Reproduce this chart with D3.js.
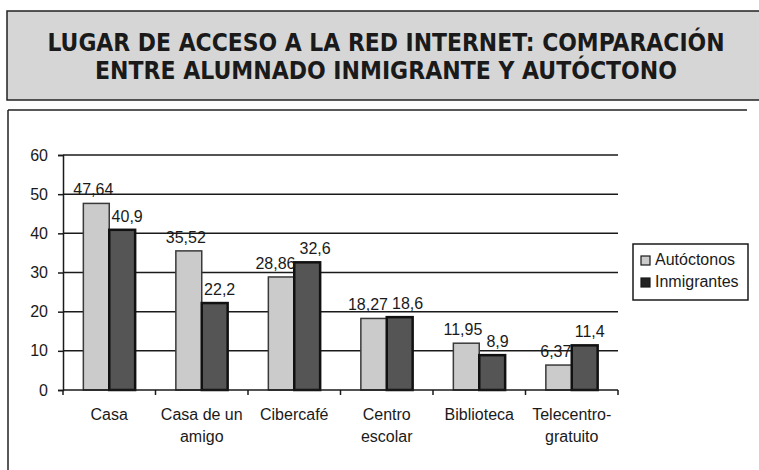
<!DOCTYPE html>
<html lang="es">
<head>
<meta charset="UTF-8">
<title>Lugar de acceso a la red Internet</title>
<style>
  body { margin: 0; background: #fff; }
  svg { display: block; font-family: "Liberation Sans", Arial, sans-serif; }
  .title { font-family: "Liberation Sans Narrow", "Arial Narrow", "DejaVu Sans Condensed", sans-serif; font-weight: bold; font-size: 25px; fill: #1a1a1a; }
  .lbl { font-size: 16px; fill: #1a1a1a; }
</style>
</head>
<body>
<div id="chart"></div>
<script src="https://d3js.org/d3.v7.min.js"></script>
<script>
// data
const titleLines = ["LUGAR DE ACCESO A LA RED INTERNET: COMPARACIÓN", "ENTRE ALUMNADO INMIGRANTE Y AUTÓCTONO"];
const categories = ["Casa", "Casa de un amigo", "Cibercafé", "Centro escolar", "Biblioteca", "Telecentro-gratuito"];
const categoryLines = [["Casa"], ["Casa de un", "amigo"], ["Cibercafé"], ["Centro", "escolar"], ["Biblioteca"], ["Telecentro-", "gratuito"]];
const seriesNames = ["Autóctonos", "Inmigrantes"];
const autoctonos = [47.64, 35.52, 28.86, 18.27, 11.95, 6.37];
const inmigrantes = [40.9, 22.2, 32.6, 18.6, 8.9, 11.4];
const yTicks = [0, 10, 20, 30, 40, 50, 60];

const width = 759, height = 470;
const plot = { left: 63, right: 618, top: 155, bottom: 390 };
const fills = ["#cbcbcb", "#555555"];
const strokes = ["#3a3a3a", "#111"];

const svg = d3.select("#chart").append("svg")
  .attr("width", width).attr("height", height);

// title box
svg.append("rect")
  .attr("x", 7).attr("y", 11).attr("width", 770).attr("height", 89)
  .attr("fill", "#d6d6d6").attr("stroke", "#222").attr("stroke-width", 1.5);

const titleWidths = [677, 582];
svg.selectAll("text.title").data(titleLines).enter().append("text")
  .attr("class", "title")
  .attr("x", 386).attr("y", (d, i) => 51 + i * 28)
  .attr("text-anchor", "middle")
  .attr("textLength", (d, i) => titleWidths[i])
  .attr("lengthAdjust", "spacingAndGlyphs")
  .text(d => d);

// chart frame (only top and left edges show)
svg.append("line").attr("x1", 8).attr("x2", 747).attr("y1", 110).attr("y2", 110)
  .attr("stroke", "#222").attr("stroke-width", 1.5);
svg.append("line").attr("x1", 8).attr("x2", 8).attr("y1", 110).attr("y2", height)
  .attr("stroke", "#222").attr("stroke-width", 1.5);

// scales
const x0 = d3.scaleBand().domain(categories).range([plot.left, plot.right])
  .paddingInner(0.44).paddingOuter(0.22);
const x1 = d3.scaleBand().domain(seriesNames).range([0, x0.bandwidth()]);
const y = d3.scaleLinear().domain([0, 60]).range([plot.bottom, plot.top]);

// gridlines
svg.append("g").selectAll("line").data(yTicks.slice(1)).enter().append("line")
  .attr("x1", plot.left).attr("x2", plot.right)
  .attr("y1", d => y(d)).attr("y2", d => y(d))
  .attr("stroke", "#1a1a1a").attr("stroke-width", 1.5);

// y axis
const yAxis = svg.append("g")
  .attr("transform", `translate(${plot.left},0)`)
  .call(d3.axisLeft(y).tickValues(yTicks).tickSize(5).tickPadding(10).tickFormat(d3.format("d")));
yAxis.select(".domain").attr("stroke", "#1a1a1a").attr("stroke-width", 1.5);
yAxis.selectAll(".tick line").attr("stroke", "#1a1a1a").attr("stroke-width", 1.5);
yAxis.selectAll(".tick text").attr("class", "lbl").attr("font-size", null).attr("font-family", null);

// bars
const values = [autoctonos, inmigrantes];
const groups = svg.append("g").selectAll("g").data(categories).enter().append("g")
  .attr("transform", d => `translate(${x0(d)},0)`);

const pairs = (d, i) => seriesNames.map((s, k) => ({ s, k, v: values[k][i] }));

groups.selectAll("rect").data(pairs).enter().append("rect")
  .attr("x", d => x1(d.s))
  .attr("y", d => y(d.v))
  .attr("width", x1.bandwidth())
  .attr("height", d => y(0) - y(d.v))
  .attr("fill", d => fills[d.k])
  .attr("stroke", d => strokes[d.k])
  .attr("stroke-width", d => d.k ? 2.5 : 1.5);

groups.selectAll("text").data(pairs).enter().append("text")
  .attr("class", "lbl")
  .attr("x", d => x1(d.s) + x1.bandwidth() / 2 + (d.k ? 5 : -3))
  .attr("y", d => y(d.v) - 8)
  .attr("text-anchor", "middle")
  .text(d => String(d.v).replace(".", ","));

// push apart value labels that collide inside a group
groups.each(function () {
  const t = d3.select(this).selectAll("text").nodes();
  const a = t[0].getBBox(), b = t[1].getBBox();
  const vert = a.y < b.y + b.height && b.y < a.y + a.height;
  const over = a.x + a.width + 4 - b.x;
  if (vert && over > 0) {
    d3.select(t[0]).attr("x", +t[0].getAttribute("x") - over / 2);
    d3.select(t[1]).attr("x", +t[1].getAttribute("x") + over / 2);
  }
});

// x axis
svg.append("line").attr("x1", plot.left).attr("x2", plot.right)
  .attr("y1", y(0)).attr("y2", y(0))
  .attr("stroke", "#1a1a1a").attr("stroke-width", 1.5);
const step = x0.step();
svg.append("g").selectAll("line").data(d3.range(categories.length + 1)).enter().append("line")
  .attr("x1", i => plot.left + i * step).attr("x2", i => plot.left + i * step)
  .attr("y1", y(0)).attr("y2", y(0) + 5)
  .attr("stroke", "#1a1a1a").attr("stroke-width", 1.5);

const xl = svg.append("g").selectAll("text").data(categories).enter().append("text")
  .attr("class", "lbl")
  .attr("text-anchor", "middle")
  .attr("x", d => x0(d) + x0.bandwidth() / 2)
  .attr("y", 420);
xl.selectAll("tspan").data((d, i) => categoryLines[i]).enter().append("tspan")
  .attr("x", function () { return this.parentNode.getAttribute("x"); })
  .attr("dy", (d, i) => i ? 22 : 0)
  .text(d => d);

// legend
const legend = svg.append("g").attr("transform", "translate(633,244)");
legend.append("rect").attr("width", 115).attr("height", 56)
  .attr("fill", "#fff").attr("stroke", "#1a1a1a").attr("stroke-width", 1.5);
const items = legend.selectAll("g").data(seriesNames).enter().append("g")
  .attr("transform", (d, i) => `translate(8,${12 + i * 22})`);
items.append("rect").attr("width", 9).attr("height", 9)
  .attr("fill", (d, i) => i ? "#222" : fills[0])
  .attr("stroke", "#1a1a1a").attr("stroke-width", 1.2);
items.append("text").attr("class", "lbl").attr("x", 14).attr("y", 9).text(d => d);
</script>
</body>
</html>
